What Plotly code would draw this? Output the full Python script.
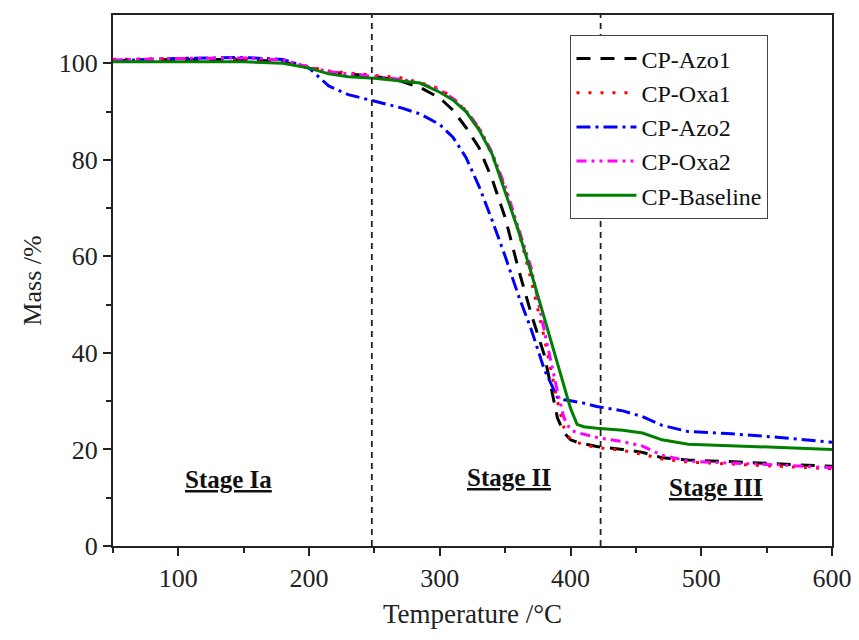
import plotly.graph_objects as go

temperature = [50, 100, 150, 180, 200, 215, 230, 250, 270, 285, 300, 310, 320, 330, 340,
               350, 360, 370, 380, 390, 395, 400, 405, 410, 420, 440, 455, 470, 490, 520, 560, 600]

azo1 = [100.5, 100.8, 100.8, 100.3, 99.0, 98.2, 97.8, 97.3, 96.3, 95.0, 92.8, 90.3, 86.7, 82.5, 76.0,
        68.0, 57.5, 48.0, 39.5, 26.5, 23.5, 22.0, 21.5, 21.2, 20.6, 20.0, 19.4, 18.3, 17.8, 17.5, 17.0, 16.5]
oxa1 = [100.8, 101.0, 101.0, 100.6, 99.3, 98.4, 98.0, 97.5, 97.0, 96.0, 94.7, 92.8, 90.2, 86.5, 81.0,
        74.0, 65.5, 55.0, 43.0, 30.0, 24.5, 22.0, 21.5, 21.0, 20.4, 19.8, 19.0, 18.0, 17.4, 17.0, 16.6, 16.0]
azo2 = [100.5, 101.0, 101.2, 100.8, 99.0, 95.3, 93.5, 92.1, 90.8, 89.5, 87.3, 84.7, 80.5, 74.5, 67.5,
        60.0, 52.0, 44.8, 36.5, 30.8, 30.3, 30.1, 29.9, 29.6, 28.9, 28.0, 26.8, 25.0, 23.7, 23.3, 22.5, 21.5]
oxa2 = [100.7, 101.0, 101.1, 100.7, 99.2, 98.3, 97.8, 97.3, 96.7, 95.8, 94.5, 92.7, 90.2, 86.7, 81.5,
        74.5, 66.0, 57.5, 44.5, 32.0, 26.5, 24.0, 23.5, 23.2, 22.5, 21.6, 20.7, 18.8, 17.6, 17.2, 16.8, 16.2]
baseline = [100.3, 100.3, 100.3, 100.0, 99.0, 97.8, 97.2, 96.9, 96.4, 95.9, 94.0, 92.4, 90.0, 86.2, 81.2,
            73.5, 65.4, 56.5, 47.0, 37.5, 33.0, 28.5, 25.2, 24.7, 24.4, 24.0, 23.4, 22.0, 21.1, 20.8, 20.4, 20.0]

series_names = ["CP-Azo1", "CP-Oxa1", "CP-Azo2", "CP-Oxa2", "CP-Baseline"]
series_values = [azo1, oxa1, azo2, oxa2, baseline]
series_colors = ["#000000", "#ff0000", "#0000ff", "#ff00ff", "#008000"]
series_dash = ["14px,10px", "3px,9px", "14px,5px,3px,5px", "10px,5px,3px,5px,3px,5px", "solid"]

stage_bounds = [248, 423]
stage_labels = ["Stage Ia", "Stage II", "Stage III"]
stage_x = [138, 353, 511]
stage_y = [13.7, 14.2, 12.2]

FONT = "Liberation Serif"

fig = go.Figure()
for name, vals, col, dash in zip(series_names, series_values, series_colors, series_dash):
    fig.add_trace(go.Scatter(x=temperature, y=vals, mode="lines", name=name,
                             line=dict(color=col, width=3, dash=dash)))

for xb in stage_bounds:
    fig.add_vline(x=xb, line=dict(color="#222222", width=1.8, dash="6px,5px"))

for lab, sx, sy in zip(stage_labels, stage_x, stage_y):
    fig.add_annotation(x=sx, y=sy, text="<b><u>" + lab + "</u></b>", showarrow=False,
                       font=dict(family=FONT, size=25, color="#111111"))

axis_common = dict(showline=True, linecolor="#222222", linewidth=2, mirror=True,
                   ticks="outside", ticklen=8, tickwidth=2, tickcolor="#222222",
                   showgrid=False, zeroline=False, automargin=False,
                   tickfont=dict(family=FONT, size=26, color="#222222"))

fig.update_xaxes(range=[50, 600], tickmode="array", tickvals=[100, 200, 300, 400, 500, 600],
                 minor=dict(tickvals=[50, 150, 250, 350, 450, 550], ticklen=5, tickwidth=2,
                            tickcolor="#222222", ticks="outside"),
                 title=dict(text="Temperature /°C", font=dict(family=FONT, size=27, color="#222222"),
                            standoff=12),
                 **axis_common)
fig.update_yaxes(range=[0, 110], tickmode="array", tickvals=[0, 20, 40, 60, 80, 100],
                 minor=dict(tickvals=[10, 30, 50, 70, 90], ticklen=5, tickwidth=2,
                            tickcolor="#222222", ticks="outside"),
                 title=dict(text="Mass /%", font=dict(family=FONT, size=26, color="#222222"),
                            standoff=10),
                 **axis_common)

fig.update_layout(
    width=859, height=640,
    margin=dict(l=113, r=27, t=15, b=94),
    plot_bgcolor="white", paper_bgcolor="white",
    legend=dict(x=0.636, y=0.962, xanchor="left", yanchor="top",
                bordercolor="#444444", borderwidth=1.2, bgcolor="white",
                font=dict(family=FONT, size=24, color="#111111"),
                itemwidth=60, tracegroupgap=0),
)

fig.write_html("out.html")
